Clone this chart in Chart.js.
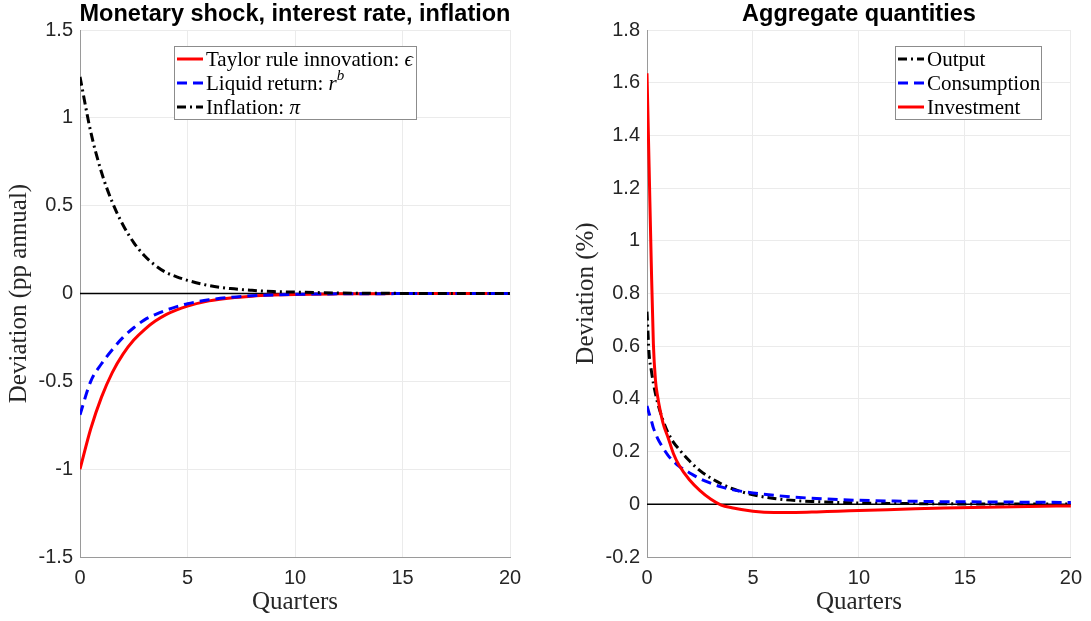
<!DOCTYPE html>
<html>
<head>
<meta charset="utf-8">
<script src="https://cdn.jsdelivr.net/npm/chart.js@4"></script>
<style>
  html, body { margin: 0; padding: 0; background: #fff; }
  #wrap { position: relative; width: 1091px; height: 621px; overflow: hidden; }
  #leftBox { position: absolute; left: 0; top: 0; width: 545px; height: 621px; }
  #rightBox { position: absolute; left: 545px; top: 0; width: 546px; height: 621px; }
</style>
</head>
<body>
<div id="wrap">
  <div id="leftBox"><canvas id="chartLeft" width="545" height="621"></canvas></div>
  <div id="rightBox"><canvas id="chartRight" width="546" height="621"></canvas></div>
</div>
<script>
// ---- left panel: monetary shock, interest rate, inflation ----
const quartersL = [0, 0.5, 1, 1.5, 2, 2.5, 3, 3.5, 4, 4.5, 5, 6, 7, 8, 9, 10, 12, 14, 16, 18, 20];
const taylorL = [-1, -0.77, -0.59, -0.45, -0.345, -0.265, -0.205, -0.157, -0.12, -0.093, -0.072, -0.042, -0.025, -0.015, -0.009, -0.005, -0.002, -0.001, 0, 0, 0];
const liquidL = [-0.69, -0.5, -0.4, -0.32, -0.25, -0.195, -0.15, -0.12, -0.095, -0.075, -0.058, -0.036, -0.022, -0.013, -0.008, -0.005, -0.002, -0.001, 0, 0, 0];
const inflationL = [1.233, 0.92, 0.69, 0.52, 0.39, 0.29, 0.215, 0.16, 0.12, 0.095, 0.075, 0.045, 0.028, 0.018, 0.011, 0.008, 0.003, 0.001, 0.0005, 0, 0];
const yTicksL = [-1.5, -1, -0.5, 0, 0.5, 1, 1.5];
const yLabelsL = ['-1.5', '-1', '-0.5', '0', '0.5', '1', '1.5'];

// ---- right panel: aggregate quantities ----
const quartersR = [0, 0.1, 0.2, 0.3, 0.4, 0.5, 0.75, 1, 1.25, 1.5, 2, 2.5, 3, 3.5, 4, 5, 6, 7, 8, 9, 10, 12, 14, 16, 18, 20];
const outputR = [0.731, 0.57, 0.51, 0.46, 0.42, 0.385, 0.32, 0.27, 0.235, 0.21, 0.165, 0.128, 0.1, 0.078, 0.06, 0.036, 0.022, 0.014, 0.01, 0.007, 0.005, 0.003, 0.002, 0.001, 0.001, 0.001];
const consumptionR = [0.373, 0.345, 0.32, 0.29, 0.27, 0.25, 0.215, 0.185, 0.163, 0.145, 0.12, 0.097, 0.08, 0.066, 0.056, 0.043, 0.034, 0.027, 0.022, 0.018, 0.015, 0.012, 0.01, 0.009, 0.008, 0.007];
const investmentR = [1.636, 1.28, 0.92, 0.61, 0.47, 0.41, 0.31, 0.252, 0.192, 0.15, 0.093, 0.052, 0.02, -0.003, -0.013, -0.026, -0.031, -0.031, -0.029, -0.026, -0.024, -0.019, -0.014, -0.011, -0.008, -0.006];
const yTicksR = [-0.2, 0, 0.2, 0.4, 0.6, 0.8, 1, 1.2, 1.4, 1.6, 1.8];
const yLabelsR = ['-0.2', '0', '0.2', '0.4', '0.6', '0.8', '1', '1.2', '1.4', '1.6', '1.8'];

const xTicks = [0, 5, 10, 15, 20];
const zeroX = [0, 20];
const zeroY = [0, 0];

const SANS = "'Liberation Sans', Arial, sans-serif";
const SERIF = "'Liberation Serif', 'DejaVu Serif', serif";
const TXT = '#262626';
const DASH = [10, 6];
const DASHDOT = [9, 4, 2, 4];

const pts = (xs, ys) => xs.map((x, i) => ({ x: x, y: ys[i] }));

// draws the panel title and the framed legend with latex-like labels
const panelDecor = {
    id: 'panelDecor',
    afterDraw(chart, args, opts) {
        const ctx = chart.ctx;
        const ca = chart.chartArea;
        ctx.save();
        ctx.fillStyle = '#000';
        ctx.font = `bold 23.5px ${SANS}`;
        ctx.textAlign = 'center';
        ctx.textBaseline = 'middle';
        ctx.fillText(opts.title, (ca.left + ca.right) / 2, 15);

        const bx = ca.left + opts.boxX, by = ca.top + opts.boxY;
        ctx.fillStyle = '#fff';
        ctx.fillRect(bx, by, opts.boxW, opts.boxH);
        ctx.strokeStyle = '#8c8c8c';
        ctx.lineWidth = 1;
        ctx.strokeRect(bx + 0.5, by + 0.5, opts.boxW, opts.boxH);

        opts.entries.forEach((e, i) => {
            const cy = by + 13 + i * 24;
            ctx.beginPath();
            ctx.setLineDash(e.dash || []);
            ctx.strokeStyle = e.color;
            ctx.lineWidth = 3;
            ctx.moveTo(bx + 3, cy);
            ctx.lineTo(bx + 29, cy);
            ctx.stroke();
            ctx.setLineDash([]);

            let tx = bx + 32;
            ctx.fillStyle = '#000';
            ctx.textAlign = 'left';
            ctx.textBaseline = 'alphabetic';
            e.parts.forEach(p => {
                const size = p.sup ? 15 : 21;
                ctx.font = `${p.it ? 'italic ' : ''}${size}px ${SERIF}`;
                ctx.fillText(p.t, tx, cy + 7 - (p.sup ? 10 : 0));
                tx += ctx.measureText(p.t).width;
            });
        });
        ctx.restore();
    }
};

function makeChart(id, cfg) {
    const datasets = cfg.series.map(s => ({
        data: pts(s.x, s.y),
        borderColor: s.color,
        borderWidth: s.width || 3,
        borderDash: s.dash || [],
        pointRadius: 0,
        fill: false,
        cubicInterpolationMode: 'monotone',
        order: s.order
    }));

    return new Chart(document.getElementById(id), {
        type: 'line',
        data: { datasets: datasets },
        options: {
            responsive: false,
            animation: false,
            devicePixelRatio: 1,
            layout: { padding: { left: cfg.padLeft, right: cfg.padRight, top: 30, bottom: 0 } },
            plugins: {
                legend: { display: false },
                tooltip: { enabled: false },
                panelDecor: cfg.decor
            },
            scales: {
                x: {
                    type: 'linear',
                    min: 0,
                    max: 20,
                    afterBuildTicks: s => { s.ticks = xTicks.map(v => ({ value: v })); },
                    afterFit: s => { s.height = 64; },
                    grid: { color: '#ebebeb', drawTicks: false },
                    border: { color: '#9a9a9a', width: 1 },
                    ticks: { color: TXT, font: { family: SANS, size: 20 }, padding: 9, maxRotation: 0 },
                    title: { display: true, text: 'Quarters', color: TXT, font: { family: SERIF, size: 25 }, padding: { top: 0, bottom: 4 } }
                },
                y: {
                    min: cfg.yTicks[0],
                    max: cfg.yTicks[cfg.yTicks.length - 1],
                    afterBuildTicks: s => { s.ticks = cfg.yTicks.map(v => ({ value: v })); },
                    afterFit: s => { s.width = 80; },
                    grid: { color: '#ebebeb', drawTicks: false },
                    border: { color: '#9a9a9a', width: 1 },
                    ticks: {
                        color: TXT,
                        font: { family: SANS, size: 20 },
                        padding: 7,
                        callback: v => cfg.yLabels[cfg.yTicks.findIndex(t => Math.abs(t - v) < 1e-9)]
                    },
                    title: { display: true, text: cfg.yTitle, color: TXT, font: { family: SERIF, size: 25 }, padding: { top: 4, bottom: 0 } }
                }
            }
        },
        plugins: [panelDecor]
    });
}

makeChart('chartLeft', {
    padLeft: 0,
    padRight: 35,
    yTicks: yTicksL,
    yLabels: yLabelsL,
    yTitle: 'Deviation (pp annual)',
    series: [
        { x: zeroX, y: zeroY, color: '#000', width: 1.5, order: 4 },
        { x: quartersL, y: taylorL, color: '#ff0000', order: 3 },
        { x: quartersL, y: liquidL, color: '#0000ff', dash: DASH, order: 2 },
        { x: quartersL, y: inflationL, color: '#000000', dash: DASHDOT, order: 1 }
    ],
    decor: {
        title: 'Monetary shock, interest rate, inflation',
        boxX: 94, boxY: 16, boxW: 242, boxH: 73,
        entries: [
            { color: '#ff0000', parts: [{ t: 'Taylor rule innovation: ' }, { t: '\u03F5', it: true }] },
            { color: '#0000ff', dash: DASH, parts: [{ t: 'Liquid return: ' }, { t: 'r', it: true }, { t: 'b', it: true, sup: true }] },
            { color: '#000000', dash: DASHDOT, parts: [{ t: 'Inflation: ' }, { t: '\u03C0', it: true }] }
        ]
    }
});

makeChart('chartRight', {
    padLeft: 22,
    padRight: 17,
    yTicks: yTicksR,
    yLabels: yLabelsR,
    yTitle: 'Deviation (%)',
    series: [
        { x: zeroX, y: zeroY, color: '#000', width: 1.5, order: 4 },
        { x: quartersR, y: outputR, color: '#000000', dash: DASHDOT, order: 3 },
        { x: quartersR, y: consumptionR, color: '#0000ff', dash: DASH, order: 2 },
        { x: quartersR, y: investmentR, color: '#ff0000', order: 1 }
    ],
    decor: {
        title: 'Aggregate quantities',
        boxX: 248, boxY: 16, boxW: 146, boxH: 73,
        entries: [
            { color: '#000000', dash: DASHDOT, parts: [{ t: 'Output' }] },
            { color: '#0000ff', dash: DASH, parts: [{ t: 'Consumption' }] },
            { color: '#ff0000', parts: [{ t: 'Investment' }] }
        ]
    }
});
</script>
</body>
</html>
